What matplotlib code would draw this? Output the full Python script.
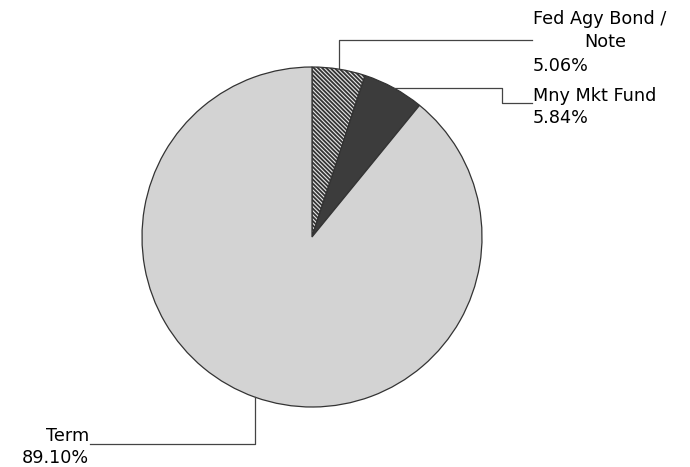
import numpy as np
import matplotlib
matplotlib.use("Agg")
import matplotlib.pyplot as plt

# composicion de la cartera
labels = ["Fed Agy Bond /\nNote", "Mny Mkt Fund", "Term"]
shares = [5.06, 5.84, 89.10]

W, H = 690, 467
CX, CY, R = 312, H - 237, 170

plt.rcParams["hatch.color"] = "#333333"
plt.rcParams["hatch.linewidth"] = 1.3

fig = plt.figure(figsize=(W / 100, H / 100), dpi=100)
ax = fig.add_axes([0, 0, 1, 1])

wedges, _ = ax.pie(shares, startangle=90, counterclock=False,
                   center=(CX, CY), radius=R, frame=True,
                   colors=["#e6e6e6", "#3c3c3c", "#d3d3d3"],
                   wedgeprops=dict(edgecolor="#333333", linewidth=0.9))
wedges[0].set_hatch("\\" * 8)

ax.set_xlim(0, W)
ax.set_ylim(0, H)
ax.set_aspect("equal")
ax.axis("off")


def anchor(w):
    ang = np.deg2rad((w.theta1 + w.theta2) / 2)
    return CX + R * np.cos(ang), CY + R * np.sin(ang)


lk = dict(color="#444444", lw=0.9)
fs = 12.7

# Fed Agy Bond / Note
x0, y0 = anchor(wedges[0])
ax.plot([x0, x0, 532], [y0, H - 40, H - 40], **lk)
ax.text(533, H - 19, "Fed Agy Bond /", fontsize=fs, ha="left", va="center")
ax.text(605, H - 42, "Note", fontsize=fs, ha="center", va="center")
ax.text(533, H - 66, f"{shares[0]:.2f}%", fontsize=fs, ha="left", va="center")

# Mny Mkt Fund
x1, y1 = anchor(wedges[1])
ax.plot([x1, 502, 502, 532], [y1, y1, H - 103, H - 103], **lk)
ax.text(533, H - 96, labels[1], fontsize=fs, ha="left", va="center")
ax.text(533, H - 118, f"{shares[1]:.2f}%", fontsize=fs, ha="left", va="center")

# Term
x2, y2 = anchor(wedges[2])
ax.plot([x2, x2, 90], [y2, H - 444, H - 444], **lk)
ax.text(89, H - 436, labels[2], fontsize=fs, ha="right", va="center")
ax.text(89, H - 458, f"{shares[2]:.2f}%", fontsize=fs, ha="right", va="center")

fig.savefig("out.png", dpi=100)
